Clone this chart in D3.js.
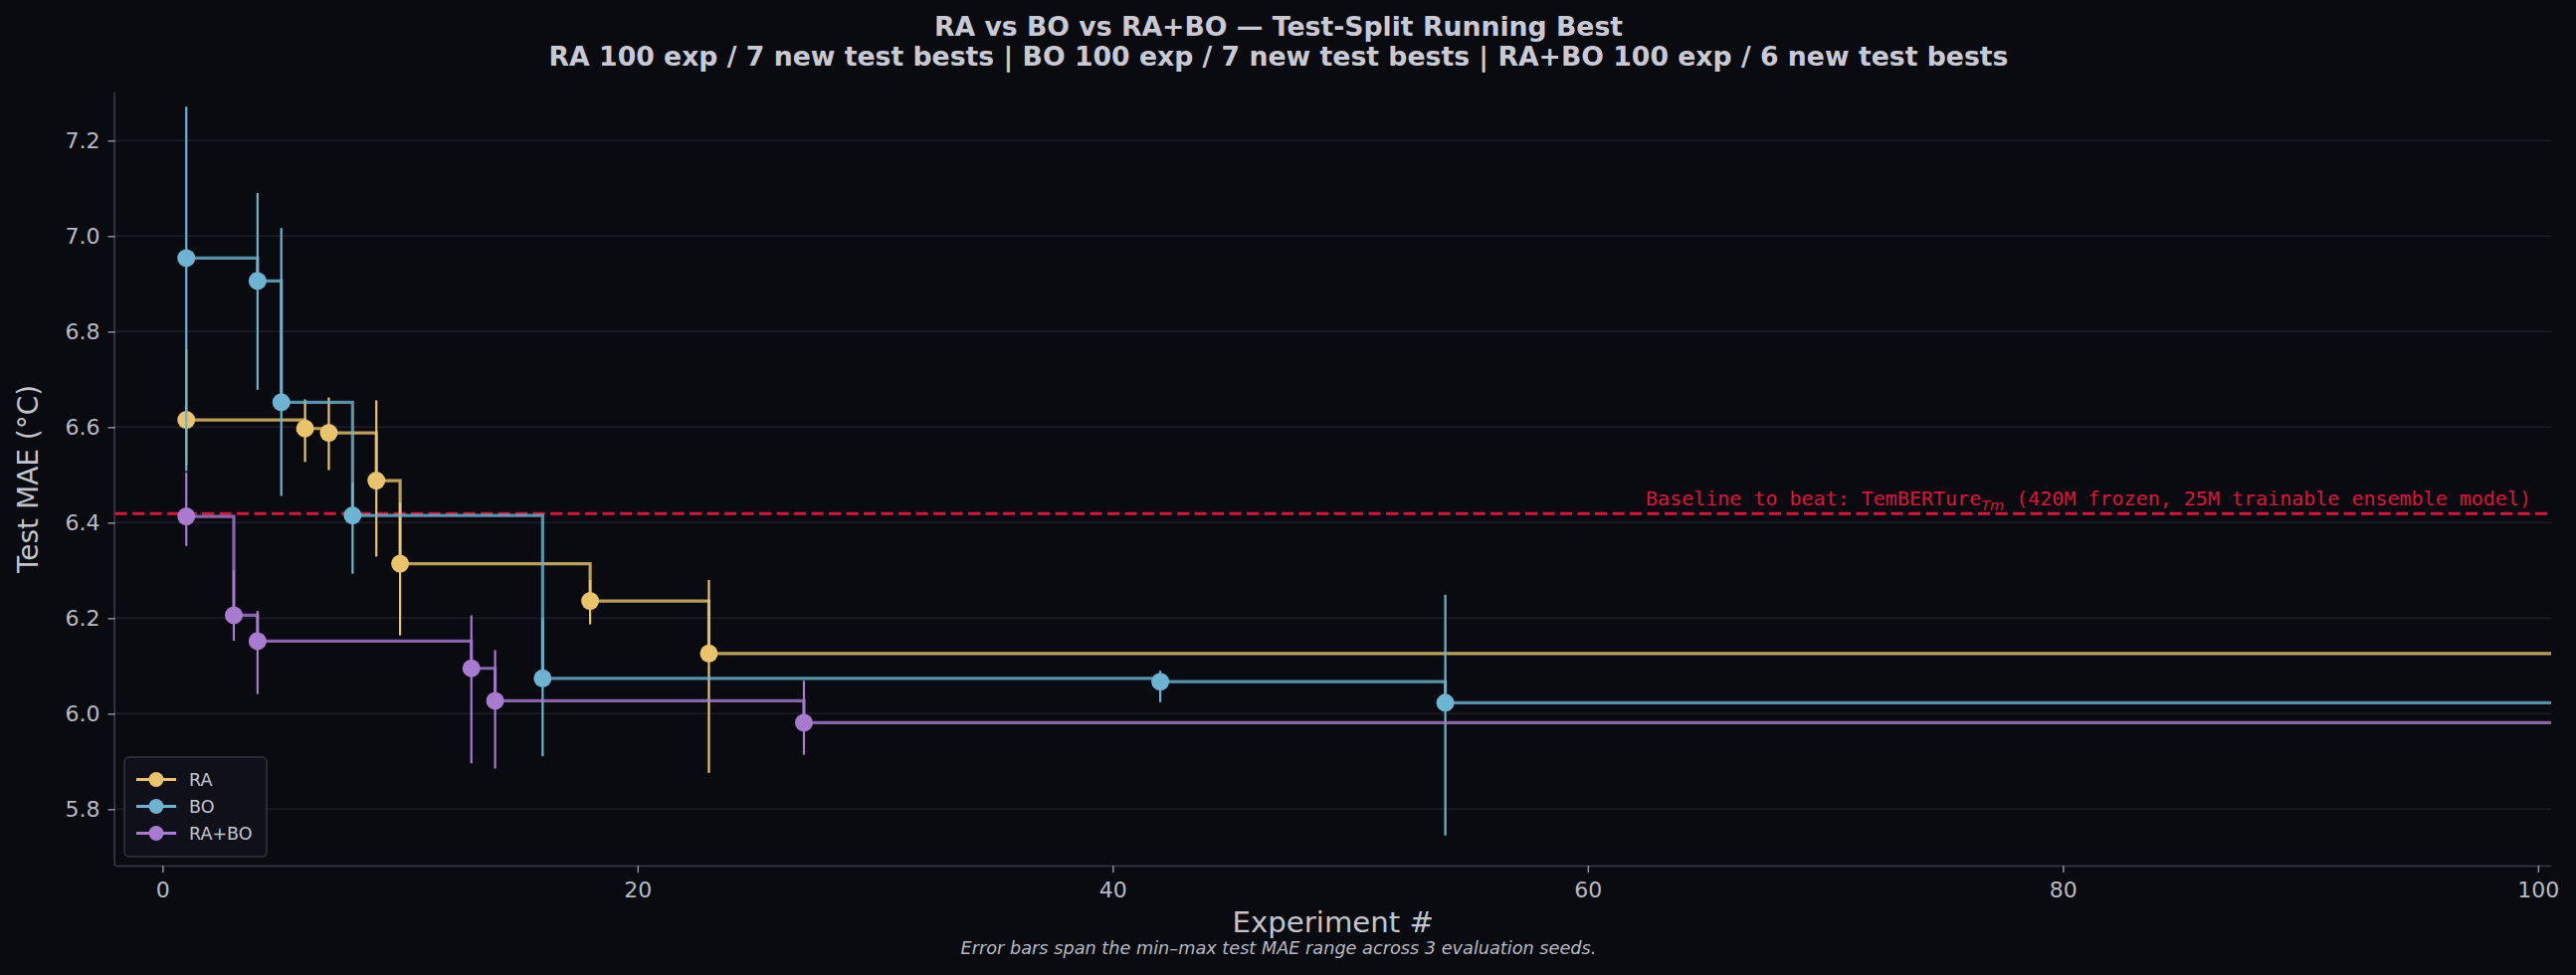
<!DOCTYPE html>
<html>
<head>
<meta charset="utf-8">
<script src="https://cdn.jsdelivr.net/npm/d3@7"></script>
<style>
  html, body { margin: 0; padding: 0; background: #090b10; }
  svg { display: block; }
  text { font-family: "DejaVu Sans", sans-serif; }
</style>
</head>
<body>
<script>
// Size of the figure
var w = 2589;
var h = 980;

// running-best points
// RA
var raX  = [1, 6, 7, 9, 10, 18, 23];
var raY  = [6.615, 6.597, 6.588, 6.488, 6.314, 6.236, 6.126];
var raLo = [6.52, 6.527, 6.510, 6.329, 6.164, 6.187, 5.876];
var raHi = [6.762, 6.658, 6.662, 6.656, 6.442, 6.280, 6.280];
// BO
var boX  = [1, 4, 5, 8, 16, 42, 54];
var boY  = [6.954, 6.906, 6.652, 6.415, 6.074, 6.067, 6.023];
var boLo = [6.508, 6.678, 6.456, 6.293, 5.911, 6.024, 5.745];
var boHi = [7.271, 7.090, 7.017, 6.484, 6.200, 6.090, 6.249];
// RA+BO
var rbX  = [1, 3, 4, 13, 14, 27];
var rbY  = [6.413, 6.206, 6.152, 6.095, 6.027, 5.981];
var rbLo = [6.351, 6.153, 6.041, 5.896, 5.885, 5.914];
var rbHi = [6.505, 6.300, 6.215, 6.206, 6.133, 6.069];

var seriesNames = ["RA", "BO", "RA+BO"];
var seriesColors = ["#e9c46a", "#6cb4d2", "#a97bd0"];
var nExp = 100;
var baseline = 6.419;

var xTicks = [0, 20, 40, 60, 80, 100];
var yTicks = [5.8, 6.0, 6.2, 6.4, 6.6, 6.8, 7.0, 7.2];

var titleLine1 = "RA vs BO vs RA+BO \u2014 Test-Split Running Best";
var titleLine2 = "RA 100 exp / 7 new test bests | BO 100 exp / 7 new test bests | RA+BO 100 exp / 6 new test bests";

// plot box (note: "top" is taken by window.top, so use other names)
var pLeft = 115.6, pRight = 2564, pTop = 92.8, pBottom = 870;
var figCenter = 1285;

var x = d3.scaleLinear().domain([-2, 100.55]).range([pLeft, pRight]);
var y = d3.scaleLinear().domain([5.682, 7.301]).range([pBottom, pTop]);

var svg = d3.select("body").append("svg")
    .attr("width", w)
    .attr("height", h);

svg.append("rect").attr("width", w).attr("height", h).attr("fill", "#090b10");

// horizontal grid
svg.append("g")
    .selectAll("line")
    .data(yTicks)
    .enter()
    .append("line")
    .attr("x1", pLeft).attr("x2", pRight)
    .attr("y1", function(d){ return y(d); })
    .attr("y2", function(d){ return y(d); })
    .attr("stroke", "#1d1e27")
    .attr("stroke-width", 1.5);

// axes
var xAxis = svg.append("g")
    .attr("transform", "translate(0," + pBottom + ")")
    .call(d3.axisBottom(x).tickValues(xTicks).tickSize(7).tickPadding(9).tickFormat(d3.format("d")));
var yAxis = svg.append("g")
    .attr("transform", "translate(" + pLeft + ",0)")
    .call(d3.axisLeft(y).tickValues(yTicks).tickSize(7).tickPadding(8).tickFormat(d3.format(".1f")));

[xAxis, yAxis].forEach(function(ax){
    ax.select(".domain").attr("stroke", "#3a3b4a").attr("stroke-width", 1.6);
    ax.selectAll(".tick line").attr("stroke", "#9a9aa6").attr("stroke-width", 1.4);
    ax.selectAll(".tick text")
      .attr("fill", "#b9b9c3")
      .style("font-size", "22px")
      .style("font-family", "DejaVu Sans, sans-serif");
});
// plain spines, no end caps
xAxis.select(".domain").attr("d", "M" + pLeft + ",0.5H" + pRight);
yAxis.select(".domain").attr("d", "M-0.5," + pBottom + "V" + pTop);

// baseline
svg.append("line")
    .attr("x1", pLeft).attr("x2", pRight)
    .attr("y1", y(baseline)).attr("y2", y(baseline))
    .attr("stroke", "#dc143c")
    .attr("stroke-width", 3)
    .attr("stroke-dasharray", "12,5.5");

var baseLbl = svg.append("text")
    .attr("x", 2544)
    .attr("y", y(baseline) - 8)
    .attr("text-anchor", "end")
    .attr("fill", "#dc143c")
    .style("font-family", "DejaVu Sans Mono, monospace")
    .style("font-size", "20px");
baseLbl.append("tspan").text("Baseline to beat: TemBERTure");
baseLbl.append("tspan")
    .attr("dy", 5)
    .style("font-family", "DejaVu Sans, sans-serif")
    .style("font-style", "italic")
    .style("font-size", "14.5px")
    .text("Tm");
baseLbl.append("tspan").attr("dy", -5).text(" (420M frozen, 25M trainable ensemble model)");

// series
var allSeries = [
    {xs: raX, ys: raY, lo: raLo, hi: raHi},
    {xs: boX, ys: boY, lo: boLo, hi: boHi},
    {xs: rbX, ys: rbY, lo: rbLo, hi: rbHi}
];

svg.append("clipPath").attr("id", "plotclip")
    .append("rect").attr("x", pLeft).attr("y", pTop)
    .attr("width", pRight - pLeft).attr("height", pBottom - pTop);

var stepLine = d3.line()
    .x(function(d){ return x(d[0]); })
    .y(function(d){ return y(d[1]); })
    .curve(d3.curveStepAfter);

allSeries.forEach(function(s, k){
    var col = seriesColors[k];
    var pts = s.xs.map(function(v, i){ return [v, s.ys[i]]; });
    pts.push([nExp + 1, s.ys[s.ys.length - 1]]);

    var g = svg.append("g").attr("clip-path", "url(#plotclip)");

    g.append("path")
        .datum(pts)
        .attr("d", stepLine)
        .attr("fill", "none")
        .attr("stroke", col)
        .attr("stroke-opacity", 0.8)
        .attr("stroke-width", 3.2);

    // error bars: min-max over seeds
    g.selectAll(".eb")
        .data(s.xs)
        .enter()
        .append("line")
        .attr("x1", function(d){ return x(d); })
        .attr("x2", function(d){ return x(d); })
        .attr("y1", function(d, i){ return y(s.lo[i]); })
        .attr("y2", function(d, i){ return y(s.hi[i]); })
        .attr("stroke", col)
        .attr("stroke-width", 2.2);

    g.selectAll(".pt")
        .data(s.xs)
        .enter()
        .append("circle")
        .attr("cx", function(d){ return x(d); })
        .attr("cy", function(d, i){ return y(s.ys[i]); })
        .attr("r", 9)
        .attr("fill", col);
});

// legend
var leg = svg.append("g");
leg.append("rect")
    .attr("x", 125).attr("y", 761)
    .attr("width", 143).attr("height", 100)
    .attr("rx", 5)
    .attr("fill", "#0f1019")
    .attr("stroke", "#2b2c37")
    .attr("stroke-width", 2);

var legItems = leg.selectAll(".li")
    .data(seriesNames)
    .enter()
    .append("g")
    .attr("transform", function(d, i){ return "translate(0," + (783.5 + i * 27) + ")"; });
legItems.append("line")
    .attr("x1", 137).attr("x2", 177)
    .attr("stroke", function(d, i){ return seriesColors[i]; })
    .attr("stroke-width", 3);
legItems.append("circle")
    .attr("cx", 157).attr("r", 7.5)
    .attr("fill", function(d, i){ return seriesColors[i]; });
legItems.append("text")
    .attr("x", 190).attr("y", 6)
    .attr("fill", "#c3c3cc")
    .style("font-size", "17.5px")
    .text(function(d){ return d; });

// titles and labels
svg.append("text")
    .attr("x", figCenter).attr("y", 36)
    .attr("text-anchor", "middle")
    .attr("fill", "#c9c9d3")
    .style("font-weight", "bold")
    .style("font-size", "26.7px")
    .text(titleLine1);
svg.append("text")
    .attr("x", figCenter).attr("y", 66)
    .attr("text-anchor", "middle")
    .attr("fill", "#c9c9d3")
    .style("font-weight", "bold")
    .style("font-size", "26.7px")
    .text(titleLine2);

svg.append("text")
    .attr("transform", "translate(38," + ((pTop + pBottom) / 2) + ") rotate(-90)")
    .attr("text-anchor", "middle")
    .attr("fill", "#c3c3cc")
    .style("font-size", "28px")
    .text("Test MAE (\u00b0C)");

svg.append("text")
    .attr("x", (pLeft + pRight) / 2).attr("y", 937)
    .attr("text-anchor", "middle")
    .attr("fill", "#c3c3cc")
    .style("font-size", "29.2px")
    .text("Experiment #");

svg.append("text")
    .attr("x", figCenter).attr("y", 959)
    .attr("text-anchor", "middle")
    .attr("fill", "#b9b9c3")
    .style("font-style", "italic")
    .style("font-size", "17.7px")
    .text("Error bars span the min\u2013max test MAE range across 3 evaluation seeds.");
</script>
</body>
</html>
